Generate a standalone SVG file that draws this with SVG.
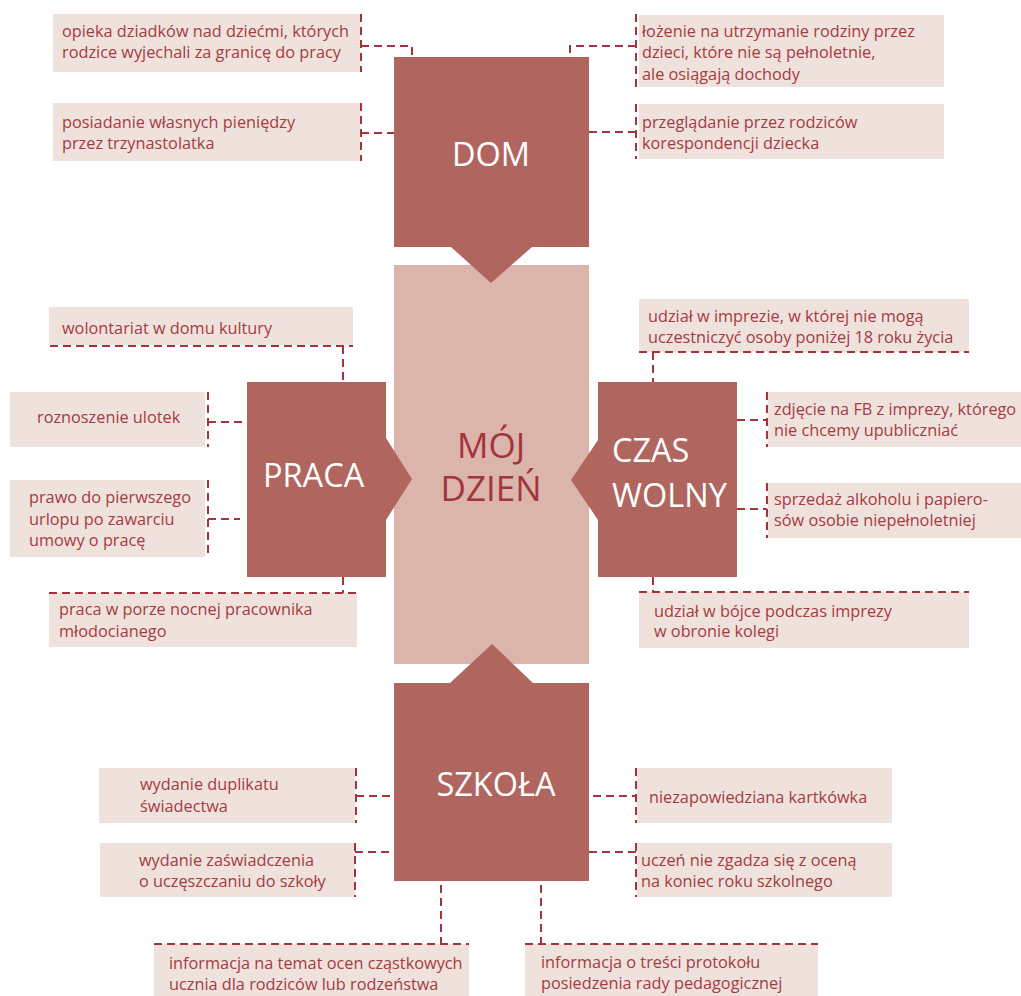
<svg xmlns="http://www.w3.org/2000/svg" width="1021" height="996" viewBox="0 0 1021 996">
<style>
text{font-family:"Open Sans","Noto Sans","Liberation Sans",sans-serif}
.lb{fill:#efe2dd}
.lt{fill:#a63a41;font-size:16.3px}
.nd{fill:#b0665e}
.nt{fill:#ffffff;font-size:32.5px}
.ct{fill:#a3343c;font-size:35px;text-anchor:middle}
.dash{fill:none;stroke:#a5333b;stroke-width:2;stroke-dasharray:8 5}
</style>
<rect width="1021" height="996" fill="#ffffff"/>
<g id="labels">
<g id="l-opieka"><rect class="lb" x="53" y="14" width="307" height="58"/><text class="lt" x="62" y="37">opieka dziadków nad dziećmi, których</text><text class="lt" x="62" y="58">rodzice wyjechali za granicę do pracy</text></g>
<g id="l-posiadanie"><rect class="lb" x="53" y="103" width="307" height="58"/><text class="lt" x="62" y="128">posiadanie własnych pieniędzy</text><text class="lt" x="62" y="149">przez trzynastolatka</text></g>
<g id="l-lozenie"><rect class="lb" x="639" y="15" width="305" height="72"/><text class="lt" x="642" y="37">łożenie na utrzymanie rodziny przez</text><text class="lt" x="642" y="58">dzieci, które nie są pełnoletnie,</text><text class="lt" x="642" y="80">ale osiągają dochody</text></g>
<g id="l-przegladanie"><rect class="lb" x="639" y="104" width="305" height="55"/><text class="lt" x="642" y="128">przeglądanie przez rodziców</text><text class="lt" x="642" y="149">korespondencji dziecka</text></g>
<g id="l-wolontariat"><rect class="lb" x="49" y="307" width="304" height="38"/><text class="lt" x="62" y="334">wolontariat w domu kultury</text></g>
<g id="l-ulotki"><rect class="lb" x="10" y="392" width="195" height="55"/><text class="lt" x="37" y="423">roznoszenie ulotek</text></g>
<g id="l-urlop"><rect class="lb" x="10" y="480" width="195" height="77"/><text class="lt" x="29" y="503">prawo do pierwszego</text><text class="lt" x="29" y="525">urlopu po zawarciu</text><text class="lt" x="29" y="546">umowy o pracę</text></g>
<g id="l-nocna"><rect class="lb" x="49" y="593" width="308" height="54"/><text class="lt" x="59" y="615">praca w porze nocnej pracownika</text><text class="lt" x="59" y="637">młodocianego</text></g>
<g id="l-impreza"><rect class="lb" x="639" y="299" width="330" height="53"/><text class="lt" x="648" y="322">udział w imprezie, w której nie mogą</text><text class="lt" x="648" y="343">uczestniczyć osoby poniżej 18 roku życia</text></g>
<g id="l-zdjecie"><rect class="lb" x="768" y="392" width="253" height="55"/><text class="lt" x="774" y="415">zdjęcie na FB z imprezy, którego</text><text class="lt" x="774" y="436">nie chcemy upubliczniać</text></g>
<g id="l-sprzedaz"><rect class="lb" x="768" y="483" width="253" height="55"/><text class="lt" x="774" y="505">sprzedaż alkoholu i papiero-</text><text class="lt" x="774" y="526">sów osobie niepełnoletniej</text></g>
<g id="l-bojka"><rect class="lb" x="639" y="592" width="330" height="56"/><text class="lt" x="654" y="617">udział w bójce podczas imprezy</text><text class="lt" x="654" y="637">w obronie kolegi</text></g>
<g id="l-duplikat"><rect class="lb" x="99" y="768" width="256" height="55"/><text class="lt" x="140" y="790">wydanie duplikatu</text><text class="lt" x="140" y="812">świadectwa</text></g>
<g id="l-zaswiadczenie"><rect class="lb" x="100" y="843" width="255" height="54"/><text class="lt" x="139" y="866">wydanie zaświadczenia</text><text class="lt" x="139" y="887">o uczęszczaniu do szkoły</text></g>
<g id="l-oceny"><rect class="lb" x="154" y="944" width="315" height="52"/><text class="lt" x="169" y="969">informacja na temat ocen cząstkowych</text><text class="lt" x="169" y="990">ucznia dla rodziców lub rodzeństwa</text></g>
<g id="l-protokol"><rect class="lb" x="525" y="944" width="293" height="52"/><text class="lt" x="541" y="968">informacja o treści protokołu</text><text class="lt" x="541" y="989">posiedzenia rady pedagogicznej</text></g>
<g id="l-kartkowka"><rect class="lb" x="637" y="768" width="255" height="55"/><text class="lt" x="649" y="803">niezapowiedziana kartkówka</text></g>
<g id="l-ocena"><rect class="lb" x="637" y="843" width="255" height="54"/><text class="lt" x="641" y="866">uczeń nie zgadza się z oceną</text><text class="lt" x="641" y="887">na koniec roku szkolnego</text></g>
</g>
<g id="connectors">
<path class="dash" d="M361,14V72M361,46H412V57"/>
<path class="dash" d="M361,103V161M361,133H394"/>
<path class="dash" d="M636,14V87M636,46H570V57"/>
<path class="dash" d="M636,104V159M589,132H636"/>
<path class="dash" d="M50,346H353M343,346V382"/>
<path class="dash" d="M208,392V447M208,422H242"/>
<path class="dash" d="M208,480V557M208,519H240"/>
<path class="dash" d="M49,593H357M343,577V593"/>
<path class="dash" d="M639,352H969M653,352V382"/>
<path class="dash" d="M767,392V447M737,420H767"/>
<path class="dash" d="M767,483V538M737,509H767"/>
<path class="dash" d="M639,592H969M653,577V592"/>
<path class="dash" d="M356,768V823M356,796H394"/>
<path class="dash" d="M355,843V897M355,852H394"/>
<path class="dash" d="M154,944H469M441,885V944"/>
<path class="dash" d="M525,944H818M541,885V944"/>
<path class="dash" d="M636,768V823M593,796H636"/>
<path class="dash" d="M636,843V897M589,852H636"/>
</g>
<g id="moj-dzien"><rect x="394" y="265" width="195" height="399" fill="#dbb4ab"/><text class="ct" x="491" y="458">MÓJ</text><text class="ct" x="491" y="501">DZIEŃ</text></g>
<g id="dom"><polygon class="nd" points="394,57 589,57 589,247 532,247 491,283 451,247 394,247"/><text class="nt" x="491" y="166" text-anchor="middle">DOM</text></g>
<g id="praca"><polygon class="nd" points="247,382 386,382 386,438 412,479 386,520 386,577 247,577"/><text class="nt" x="263" y="487">PRACA</text></g>
<g id="czas-wolny"><polygon class="nd" points="598,382 737,382 737,577 598,577 598,520 571,480 598,440"/><text class="nt" x="612" y="462">CZAS</text><text class="nt" x="612" y="507">WOLNY</text></g>
<g id="szkola"><polygon class="nd" points="394,683 450,683 492,644 533,683 589,683 589,881 394,881"/><text class="nt" x="496" y="796" text-anchor="middle">SZKOŁA</text></g>
</svg>
